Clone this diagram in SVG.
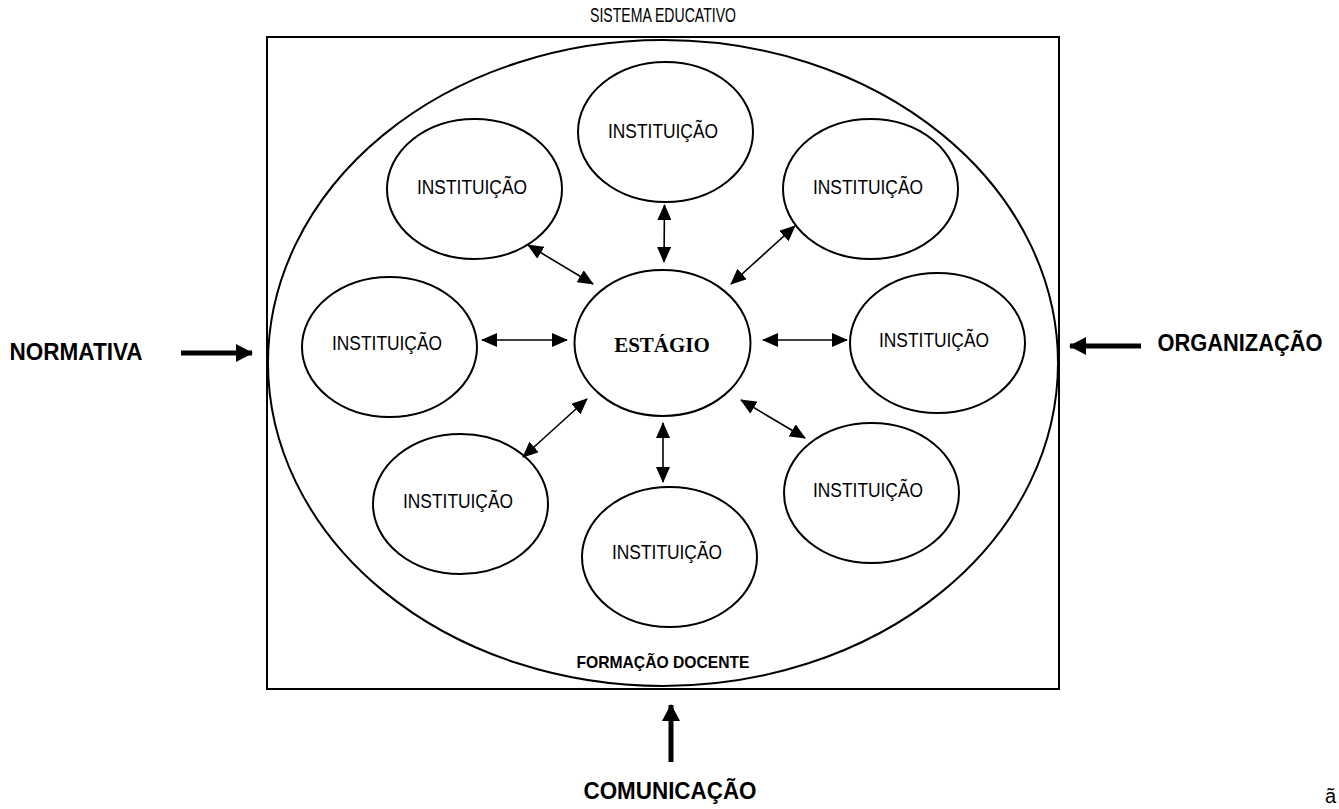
<svg xmlns="http://www.w3.org/2000/svg" width="1339" height="809" viewBox="0 0 1339 809">
<style>
.sh{fill:none;stroke:#000;stroke-width:2}
.t{font-family:"Liberation Sans",Arial,sans-serif;font-size:20px;fill:#000;text-anchor:middle}
.b{font-family:"Liberation Sans",Arial,sans-serif;font-weight:bold;fill:#000;text-anchor:middle}
.c{stroke:#000;stroke-width:1.6;fill:none;marker-start:url(#h);marker-end:url(#h)}
.big{stroke:#000;stroke-width:5;fill:none;marker-end:url(#H)}
</style>
<defs>
<marker id="h" viewBox="0 0 16 14" refX="15" refY="7" markerWidth="16" markerHeight="14" markerUnits="userSpaceOnUse" orient="auto-start-reverse"><path d="M0,0 L16,7 L0,14 z" fill="#000"/></marker>
<marker id="H" viewBox="0 0 17 18" refX="16" refY="9" markerWidth="17" markerHeight="18" markerUnits="userSpaceOnUse" orient="auto"><path d="M0,0 L17,9 L0,18 z" fill="#000"/></marker>
</defs>
<rect width="1339" height="809" fill="#fff"/>
<g id="sistema">
<rect x="267" y="37" width="792" height="652" class="sh"/>
<text x="663" y="22" class="t" font-size="18" textLength="146" lengthAdjust="spacingAndGlyphs">SISTEMA EDUCATIVO</text>
</g>
<g id="formacao">
<ellipse cx="663" cy="363" rx="395" ry="323" class="sh"/>
<text x="663" y="668" class="b" font-size="17" textLength="173" lengthAdjust="spacingAndGlyphs">FORMAÇÃO DOCENTE</text>
</g>
<g id="estagio">
<ellipse cx="662.5" cy="343" rx="88" ry="73" class="sh"/>
<text x="662" y="352" font-family="'Liberation Serif','Times New Roman',serif" font-weight="bold" font-size="21" text-anchor="middle">ESTÁGIO</text>
</g>
<g id="inst-top">
<ellipse cx="665.5" cy="132" rx="87.5" ry="70" class="sh"/>
<text x="663" y="138" class="t" textLength="110" lengthAdjust="spacingAndGlyphs">INSTITUIÇÃO</text>
</g>
<g id="inst-topleft">
<ellipse cx="474.5" cy="189" rx="87.5" ry="70" class="sh"/>
<text x="472" y="194" class="t" textLength="110" lengthAdjust="spacingAndGlyphs">INSTITUIÇÃO</text>
</g>
<g id="inst-topright">
<ellipse cx="870.5" cy="189" rx="87.5" ry="70" class="sh"/>
<text x="868" y="194" class="t" textLength="110" lengthAdjust="spacingAndGlyphs">INSTITUIÇÃO</text>
</g>
<g id="inst-left">
<ellipse cx="389.5" cy="347" rx="87.5" ry="70" class="sh"/>
<text x="387" y="350" class="t" textLength="110" lengthAdjust="spacingAndGlyphs">INSTITUIÇÃO</text>
</g>
<g id="inst-right">
<ellipse cx="937.5" cy="343" rx="87.5" ry="70" class="sh"/>
<text x="934" y="347" class="t" textLength="110" lengthAdjust="spacingAndGlyphs">INSTITUIÇÃO</text>
</g>
<g id="inst-bottomleft">
<ellipse cx="460.5" cy="504" rx="87.5" ry="70" class="sh"/>
<text x="458" y="508" class="t" textLength="110" lengthAdjust="spacingAndGlyphs">INSTITUIÇÃO</text>
</g>
<g id="inst-bottom">
<ellipse cx="669.5" cy="557" rx="87.5" ry="70" class="sh"/>
<text x="667" y="559" class="t" textLength="110" lengthAdjust="spacingAndGlyphs">INSTITUIÇÃO</text>
</g>
<g id="inst-bottomright">
<ellipse cx="871.5" cy="493" rx="87.5" ry="70" class="sh"/>
<text x="868" y="497" class="t" textLength="110" lengthAdjust="spacingAndGlyphs">INSTITUIÇÃO</text>
</g>
<g id="normativa">
<text x="76" y="360" class="b" font-size="24" textLength="133" lengthAdjust="spacingAndGlyphs">NORMATIVA</text>
</g>
<g id="organizacao">
<text x="1240" y="351" class="b" font-size="24" textLength="165" lengthAdjust="spacingAndGlyphs">ORGANIZAÇÃO</text>
</g>
<g id="comunicacao">
<text x="670" y="799" class="b" font-size="24" textLength="173" lengthAdjust="spacingAndGlyphs">COMUNICAÇÃO</text>
</g>
<g id="connectors">
<line x1="664.5" y1="205" x2="664" y2="262" class="c"/>
<line x1="528" y1="245" x2="593" y2="284" class="c"/>
<line x1="795" y1="226" x2="731" y2="284" class="c"/>
<line x1="482" y1="340" x2="567" y2="340" class="c"/>
<line x1="763" y1="340" x2="847" y2="340" class="c"/>
<line x1="523" y1="457" x2="587" y2="399" class="c"/>
<line x1="663" y1="423" x2="663" y2="482" class="c"/>
<line x1="741" y1="400" x2="805" y2="438" class="c"/>
<line x1="181" y1="353" x2="252" y2="353" class="big"/>
<line x1="1141" y1="346" x2="1070" y2="346" class="big"/>
<line x1="671" y1="762" x2="671" y2="705" class="big"/>
</g>
<text x="1325" y="803" font-family="'Liberation Sans',Arial,sans-serif" font-size="20">ã</text>
</svg>
